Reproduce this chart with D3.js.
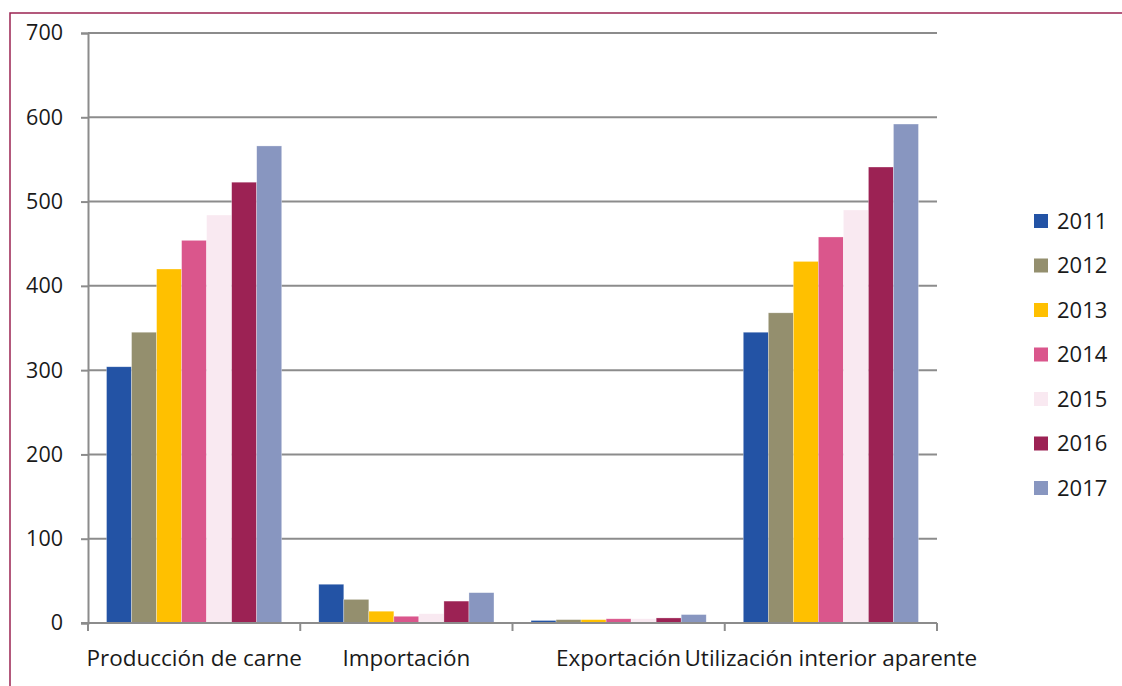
<!DOCTYPE html>
<html>
<head>
<meta charset="utf-8">
<script src="https://cdn.jsdelivr.net/npm/d3@7"></script>
<style>
  body { margin: 0; background: #fff; }
  svg { display: block; font-family: "Open Sans", "Liberation Sans", Arial, sans-serif; }
</style>
</head>
<body>
<svg id="chart" width="1122" height="686"></svg>
<script>
// data
var categories = ["Producción de carne", "Importación", "Exportación", "Utilización interior aparente"];
var years = ["2011", "2012", "2013", "2014", "2015", "2016", "2017"];
var v2011 = [304, 46, 3, 345];
var v2012 = [345, 28, 4, 368];
var v2013 = [420, 14, 4, 429];
var v2014 = [454, 8, 5, 458];
var v2015 = [484, 11, 5, 490];
var v2016 = [523, 26, 6, 541];
var v2017 = [566, 36, 10, 592];
var yTicks = [0, 100, 200, 300, 400, 500, 600, 700];
var colors = ["#2353a5", "#948f6e", "#ffc000", "#da568c", "#f9e9f1", "#9c2254", "#8896c0"];

var series = [v2011, v2012, v2013, v2014, v2015, v2016, v2017];

var svg = d3.select("#chart");
var plotLeft = 88, plotRight = 937, plotTop = 33, plotBottom = 623;
var fontFam = "Open Sans, Liberation Sans, Arial, sans-serif";

// frame of the picture
svg.append("path")
  .attr("d", "M10,690 L10,13 L1130,13")
  .attr("fill", "none")
  .attr("stroke", "#9b2352")
  .attr("stroke-width", 1.5);

var y = d3.scaleLinear().domain([0, 700]).range([plotBottom, plotTop]);
var x0 = d3.scaleBand().domain(categories).range([plotLeft, plotRight]);
var x1 = d3.scaleBand().domain(years).range([0, x0.bandwidth()]).paddingOuter(0.74);

// gridlines
svg.append("g").selectAll("line")
  .data(yTicks.filter(function (d) { return d > 0; }))
  .enter().append("line")
  .attr("x1", plotLeft).attr("x2", plotRight)
  .attr("y1", function (d) { return y(d); })
  .attr("y2", function (d) { return y(d); })
  .attr("stroke", "#8c8c8c")
  .attr("stroke-width", 2);

// bars
var groups = svg.append("g").selectAll("g")
  .data(categories)
  .enter().append("g")
  .attr("transform", function (d) { return "translate(" + x0(d) + ",0)"; });

groups.selectAll("rect")
  .data(function (d, i) {
    return years.map(function (yr, j) { return { year: yr, value: series[j][i], idx: j }; });
  })
  .enter().append("rect")
  .attr("x", function (d) { return x1(d.year); })
  .attr("width", x1.bandwidth())
  .attr("y", function (d) { return y(d.value); })
  .attr("height", function (d) { return plotBottom - y(d.value); })
  .attr("fill", function (d) { return colors[d.idx]; })
  .attr("stroke", "#ffffff")
  .attr("stroke-opacity", 0.5)
  .attr("stroke-width", 0.6);

// y axis
var yAxis = svg.append("g")
  .attr("transform", "translate(" + plotLeft + ",0)")
  .call(d3.axisLeft(y).tickValues(yTicks).tickSize(7).tickPadding(18));
yAxis.select(".domain").attr("stroke", "#8c8c8c").attr("stroke-width", 2);
yAxis.selectAll(".tick line").attr("stroke", "#8c8c8c").attr("stroke-width", 2);
yAxis.selectAll(".tick text")
  .attr("font-size", 21.5)
  .attr("font-family", fontFam)
  .attr("fill", "#1a1a1a");

// x axis
var xAxisLine = svg.append("g");
xAxisLine.append("line")
  .attr("x1", plotLeft - 7).attr("x2", plotRight)
  .attr("y1", plotBottom).attr("y2", plotBottom)
  .attr("stroke", "#8c8c8c").attr("stroke-width", 2);
var bounds = categories.map(function (c) { return x0(c); }).concat([plotRight]);
xAxisLine.selectAll("line.tk")
  .data(bounds)
  .enter().append("line")
  .attr("class", "tk")
  .attr("x1", function (d) { return d; }).attr("x2", function (d) { return d; })
  .attr("y1", plotBottom).attr("y2", plotBottom + 8)
  .attr("stroke", "#8c8c8c").attr("stroke-width", 2);

svg.append("g").selectAll("text")
  .data(categories)
  .enter().append("text")
  .attr("x", function (d) { return x0(d) + x0.bandwidth() / 2; })
  .attr("y", 666)
  .attr("text-anchor", "middle")
  .attr("font-size", 22.5)
  .attr("font-family", fontFam)
  .attr("fill", "#1a1a1a")
  .text(function (d) { return d; });

// legend
var legendY = d3.scalePoint().domain(years).range([221, 488]);
var legend = svg.append("g").selectAll("g")
  .data(years)
  .enter().append("g")
  .attr("transform", function (d) { return "translate(1034," + legendY(d) + ")"; });
legend.append("rect")
  .attr("x", 0).attr("y", -7)
  .attr("width", 14).attr("height", 14)
  .attr("fill", function (d, i) { return colors[i]; });
legend.append("text")
  .attr("x", 23).attr("y", 0)
  .attr("dy", "0.35em")
  .attr("font-size", 22)
  .attr("font-family", fontFam)
  .attr("fill", "#1a1a1a")
  .text(function (d) { return d; });
</script>
</body>
</html>
